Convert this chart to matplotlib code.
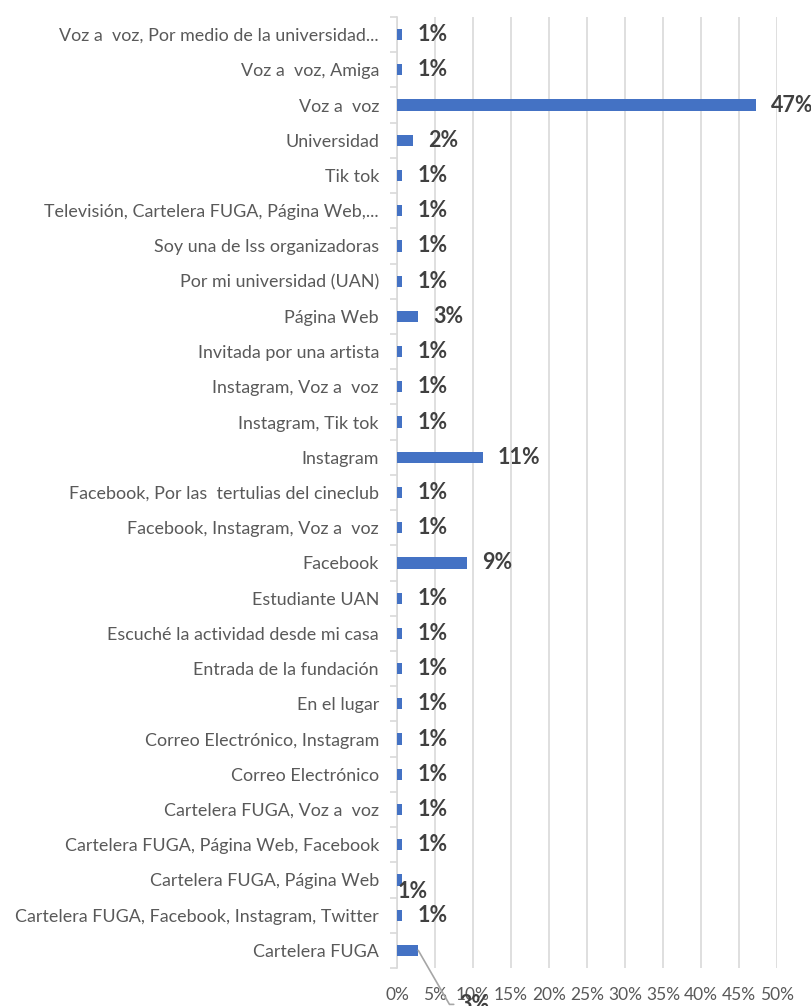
import matplotlib

matplotlib.use('Agg')
import matplotlib.pyplot as plt
from matplotlib.ticker import FixedLocator, PercentFormatter

plt.rcParams['font.family'] = ['Lato', 'DejaVu Sans']

# categories listed top to bottom as in the chart
categories = [
    "Voz a  voz, Por medio de la universidad...",
    "Voz a  voz, Amiga",
    "Voz a  voz",
    "Universidad",
    "Tik tok",
    "Televisión, Cartelera FUGA, Página Web,...",
    "Soy una de lss organizadoras",
    "Por mi universidad (UAN)",
    "Página Web",
    "Invitada por una artista",
    "Instagram, Voz a  voz",
    "Instagram, Tik tok",
    "Instagram",
    "Facebook, Por las  tertulias del cineclub",
    "Facebook, Instagram, Voz a  voz",
    "Facebook",
    "Estudiante UAN",
    "Escuché la actividad desde mi casa",
    "Entrada de la fundación",
    "En el lugar",
    "Correo Electrónico, Instagram",
    "Correo Electrónico",
    "Cartelera FUGA, Voz a  voz",
    "Cartelera FUGA, Página Web, Facebook",
    "Cartelera FUGA, Página Web",
    "Cartelera FUGA, Facebook, Instagram, Twitter",
    "Cartelera FUGA",
]
# percentages
values = [0.7, 0.7, 47.2, 2.1, 0.7, 0.7, 0.7, 0.7, 2.8, 0.7, 0.7, 0.7, 11.3,
          0.7, 0.7, 9.2, 0.7, 0.7, 0.7, 0.7, 0.7, 0.7, 0.7, 0.7, 0.7, 0.7, 2.8]
x_ticks = [0, 5, 10, 15, 20, 25, 30, 35, 40, 45, 50]

bar_color = '#4472c4'
grid_color = '#d9d9d9'
label_color = '#595959'
value_color = '#404040'

fig = plt.figure(figsize=(8.11, 10.06), dpi=100)
ax = fig.add_axes([397 / 811, 1 - 968 / 1006, 380 / 811, 951 / 1006])

pos = list(range(len(categories)))
bars = ax.barh(pos, values, height=0.32, color=bar_color, zorder=3)

ax.set_xlim(0, 50)
ax.set_ylim(len(categories) - 0.5, -0.5)

ax.xaxis.set_major_locator(FixedLocator(x_ticks))
ax.xaxis.set_major_formatter(PercentFormatter(decimals=0))
ax.grid(axis='x', color=grid_color, linewidth=1.2, zorder=0)
ax.tick_params(axis='x', length=0, pad=14, labelsize=12.5, labelcolor=label_color)

ax.set_yticks(pos)
ax.set_yticklabels(categories)
ax.set_yticks([p + 0.5 for p in pos[:-1]] + [-0.5, len(categories) - 0.5], minor=True)
ax.tick_params(axis='y', which='major', length=0, pad=13, labelsize=12.9, labelcolor=label_color)
ax.tick_params(axis='y', which='minor', length=5, width=1.2, color=grid_color)

for side in ('top', 'right', 'bottom'):
    ax.spines[side].set_visible(False)
ax.spines['left'].set_color(grid_color)
ax.spines['left'].set_linewidth(1.2)

# data labels
value_font = dict(fontsize=15.5, fontweight='bold', color=value_color)
for i, (bar, v) in enumerate(zip(bars, values)):
    text = f"{round(v)}%"
    y = bar.get_y() + bar.get_height() / 2
    if categories[i] == "Cartelera FUGA, Página Web":
        ax.annotate(text, (v, y), xytext=(10, -12), textcoords='offset pixels',
                    ha='center', va='center', **value_font)
    elif categories[i] == "Cartelera FUGA":
        ax.annotate(text, (v, y), xytext=(41, -54), textcoords='offset pixels',
                    ha='left', va='center', annotation_clip=False, **value_font,
                    arrowprops=dict(arrowstyle='-', color='#a6a6a6', lw=1.2,
                                    shrinkA=2, shrinkB=0, relpos=(0, 0.5),
                                    connectionstyle='angle,angleA=0,angleB=120,rad=0'))
    else:
        ax.annotate(text, (v, y), xytext=(15, 0), textcoords='offset pixels',
                    ha='left', va='center', annotation_clip=False, **value_font)

fig.savefig('out.png', dpi=100)
plt.close(fig)
